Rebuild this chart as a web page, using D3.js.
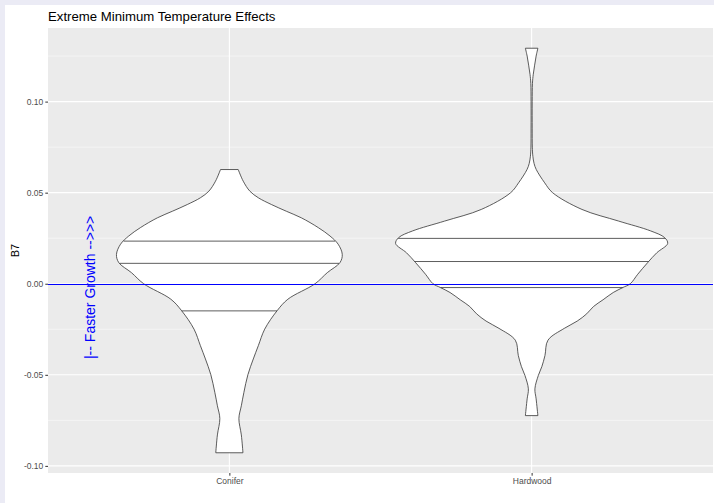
<!DOCTYPE html>
<html>
<head>
<meta charset="utf-8">
<script src="https://cdn.jsdelivr.net/npm/d3@7"></script>
<style>
  body { margin: 0; background: #ffffff; }
  text { font-family: "Liberation Sans", Arial, sans-serif; }
</style>
</head>
<body>
<script>
// categories on the x axis
var categories = ["Conifer", "Hardwood"];

// violin outline per group: [B7 value, relative half width]
var coniferDensity = [
  [0.0627, 0.065], [0.0563, 0.102], [0.0508, 0.151], [0.0472, 0.213],
  [0.0435, 0.309], [0.0398, 0.419], [0.0362, 0.529], [0.0308, 0.654],
  [0.0262, 0.74], [0.0217, 0.80], [0.0161, 0.83], [0.0116, 0.813],
  [0.0061, 0.72], [0, 0.63], [-0.0085, 0.43], [-0.0149, 0.35],
  [-0.0249, 0.26], [-0.034, 0.213], [-0.0413, 0.176], [-0.05, 0.136],
  [-0.0596, 0.107], [-0.067, 0.088], [-0.074, 0.07], [-0.083, 0.088],
  [-0.0928, 0.10]
];
var hardwoodDensity = [
  [0.1293, 0.046], [0.125, 0.033], [0.12, 0.022], [0.115, 0.012],
  [0.11, 0.006], [0.10, 0.004], [0.085, 0.004], [0.075, 0.005],
  [0.07, 0.009], [0.066, 0.018], [0.0627, 0.034], [0.0554, 0.096],
  [0.05, 0.154], [0.0408, 0.37], [0.0344, 0.64], [0.029, 0.875],
  [0.0253, 0.978], [0.0221, 1.0], [0.017, 0.92], [0.0116, 0.853],
  [0.0052, 0.78], [0, 0.725], [-0.0021, 0.67], [-0.0048, 0.6],
  [-0.0088, 0.525], [-0.0125, 0.455], [-0.0165, 0.405], [-0.0205, 0.335],
  [-0.0245, 0.24], [-0.031, 0.12], [-0.0394, 0.098], [-0.0455, 0.075],
  [-0.0504, 0.049], [-0.0577, 0.024], [-0.0632, 0.033], [-0.0724, 0.046]
];
var densities = [coniferDensity, hardwoodDensity];

// 25%, 50%, 75% quantile lines
var coniferQuantiles = [0.0234, 0.0112, -0.0149];
var hardwoodQuantiles = [0.0249, 0.0122, -0.0021];
var quantiles = [coniferQuantiles, hardwoodQuantiles];

var yTicks = [-0.10, -0.05, 0.00, 0.05, 0.10];
var yMinorTicks = [-0.075, -0.025, 0.025, 0.075, 0.125];

var titleText = "Extreme Minimum Temperature Effects";
var yLabel = "B7";
var noteText = "|-- Faster Growth -->>>";
var notePos = [0.54, -0.002];

var width = 714, height = 503;
var panel = {left: 48, right: 713, top: 28, bottom: 473};

var svg = d3.select("body").append("svg")
    .attr("width", width)
    .attr("height", height);

// lavender frame + white plot background
svg.append("rect").attr("width", width).attr("height", height).attr("fill", "#ebebf5");
svg.append("rect").attr("x", 5).attr("y", 5).attr("width", width - 5).attr("height", height - 5).attr("fill", "#ffffff");

// scales, y domain is the data range expanded 5% like ggplot
var allValues = [];
densities.forEach(function(d) { d.forEach(function(p) { allValues.push(p[0]); }); });
var ext = d3.extent(allValues);
var pad = (ext[1] - ext[0]) * 0.05;

var y = d3.scaleLinear()
    .domain([ext[0] - pad, ext[1] + pad])
    .range([panel.bottom, panel.top]);

var x = d3.scalePoint()
    .domain(categories)
    .range([panel.left, panel.right])
    .padding(0.6);

var w = d3.scaleLinear().domain([0, 1]).range([0, 0.45 * x.step()]);

// panel
svg.append("rect")
    .attr("x", panel.left).attr("y", panel.top)
    .attr("width", panel.right - panel.left).attr("height", panel.bottom - panel.top)
    .attr("fill", "#ebebeb");

var grid = svg.append("g");
grid.selectAll(".minor").data(yMinorTicks).enter().append("line")
    .attr("x1", panel.left).attr("x2", panel.right)
    .attr("y1", y).attr("y2", y)
    .attr("stroke", "#ffffff").attr("stroke-width", 0.5);
grid.selectAll(".major").data(yTicks).enter().append("line")
    .attr("x1", panel.left).attr("x2", panel.right)
    .attr("y1", y).attr("y2", y)
    .attr("stroke", "#ffffff").attr("stroke-width", 1.1);
grid.selectAll(".vmajor").data(categories).enter().append("line")
    .attr("y1", panel.top).attr("y2", panel.bottom)
    .attr("x1", x).attr("x2", x)
    .attr("stroke", "#ffffff").attr("stroke-width", 1.1);

// violins
categories.forEach(function(cat, i) {
  var cx = x(cat);
  var area = d3.area()
      .y(function(d) { return y(d[0]); })
      .x0(function(d) { return cx - w(d[1]); })
      .x1(function(d) { return cx + w(d[1]); })
      .curve(d3.curveCatmullRom);

  svg.append("path")
      .datum(densities[i])
      .attr("d", area)
      .attr("fill", "#ffffff")
      .attr("stroke", "#333333")
      .attr("stroke-width", 0.8);

  // half width at a value, linear between outline points
  var sorted = densities[i].slice().sort(function(a, b) { return a[0] - b[0]; });
  var halfAt = function(v) {
    var j = d3.bisector(function(d) { return d[0]; }).left(sorted, v);
    if (j <= 0) return sorted[0][1];
    if (j >= sorted.length) return sorted[sorted.length - 1][1];
    var a = sorted[j - 1], b = sorted[j];
    return a[1] + (b[1] - a[1]) * (v - a[0]) / (b[0] - a[0]);
  };

  svg.selectAll(".q" + i).data(quantiles[i]).enter().append("line")
      .attr("x1", function(d) { return cx - w(halfAt(d)); })
      .attr("x2", function(d) { return cx + w(halfAt(d)); })
      .attr("y1", y).attr("y2", y)
      .attr("stroke", "#333333")
      .attr("stroke-width", 0.8);
});

// zero line, snapped to a pixel row so it stays bright blue
var zeroY = Math.round(y(0)) + 0.5;
svg.append("line")
    .attr("x1", panel.left).attr("x2", panel.right)
    .attr("y1", zeroY).attr("y2", zeroY)
    .attr("stroke", "#0000ff").attr("stroke-width", 1);

// annotation
var xLin = d3.scaleLinear().domain([0.4, 2.6]).range([panel.left, panel.right]);
svg.append("text")
    .attr("transform", "translate(" + xLin(notePos[0]) + "," + y(notePos[1]) + ") rotate(-90)")
    .attr("text-anchor", "middle")
    .attr("dominant-baseline", "central")
    .attr("fill", "#0000ff")
    .attr("font-size", 14)
    .text(noteText);

// axes
var yAxis = svg.append("g")
    .attr("transform", "translate(" + panel.left + ",0)")
    .call(d3.axisLeft(y).tickValues(yTicks).tickSize(2.7).tickPadding(2)
      .tickFormat(function(d) { return d.toFixed(2); }));
yAxis.select(".domain").remove();
yAxis.selectAll("line").attr("stroke", "#333333");
yAxis.selectAll("text").attr("fill", "#4d4d4d").attr("font-size", 8.5)
    .style("font-family", '"Liberation Sans", Arial, sans-serif');

var xAxis = svg.append("g")
    .attr("transform", "translate(0," + panel.bottom + ")")
    .call(d3.axisBottom(x).tickSize(2.7).tickPadding(2));
xAxis.select(".domain").remove();
xAxis.selectAll("line").attr("stroke", "#333333");
xAxis.selectAll("text").attr("fill", "#4d4d4d").attr("font-size", 8.5)
    .style("font-family", '"Liberation Sans", Arial, sans-serif');

// titles
svg.append("text")
    .attr("x", panel.left).attr("y", 21)
    .attr("font-size", 13.2)
    .attr("fill", "#000000")
    .text(titleText);

svg.append("text")
    .attr("transform", "translate(19," + ((panel.top + panel.bottom) / 2) + ") rotate(-90)")
    .attr("text-anchor", "middle")
    .attr("font-size", 11)
    .attr("fill", "#000000")
    .text(yLabel);
</script>
</body>
</html>
